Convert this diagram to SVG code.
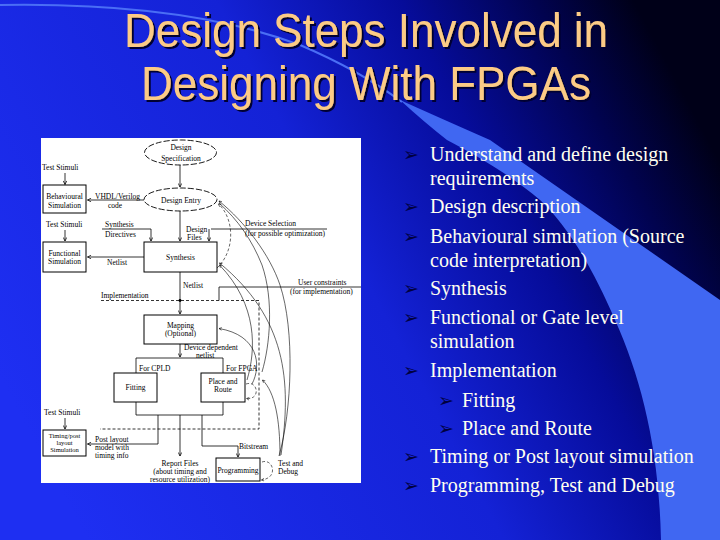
<svg xmlns="http://www.w3.org/2000/svg" width="720" height="540" viewBox="0 0 720 540">
<defs>
<linearGradient id="bg" x1="0" y1="0.7" x2="1" y2="0.3">
<stop offset="0" stop-color="#1e2ff2"/>
<stop offset="0.5" stop-color="#1422d6"/>
<stop offset="0.72" stop-color="#060c9a"/>
<stop offset="0.88" stop-color="#010350"/>
<stop offset="1" stop-color="#000018"/>
</linearGradient>
<filter id="sh" x="-5%" y="-20%" width="110%" height="140%">
<feOffset in="SourceAlpha" dx="2" dy="2" result="o"/>
<feFlood flood-color="#000033"/>
<feComposite in2="o" operator="in" result="s"/>
<feMerge><feMergeNode in="s"/><feMergeNode in="SourceGraphic"/></feMerge>
</filter>
<marker id="ah" viewBox="0 0 8 8" refX="7" refY="4" markerWidth="6" markerHeight="6" orient="auto-start-reverse">
<path d="M1,1 L7,4 L1,7" fill="none" stroke="#000" stroke-width="1.2"/>
</marker>
<style>
.title{font-family:"Liberation Sans",Arial,sans-serif;font-size:44px;fill:#fccb86}
.bt{font-family:"Liberation Serif","Times New Roman",serif;font-size:20px;fill:#fffff0}
.bm{font-family:"DejaVu Sans",sans-serif;font-size:19px;fill:#000040}
.l{font-family:"Liberation Serif","Times New Roman",serif;font-size:7.5px;fill:#000}
.s{font-size:6.5px}
.c{text-anchor:middle}
.box{fill:#fff;stroke:#000;stroke-width:1}
.ell{fill:#fff;stroke:#000;stroke-width:0.9;stroke-dasharray:6 2}
.ln{fill:none;stroke:#000;stroke-width:0.8}
.ds{stroke-dasharray:3 2}
.cv{fill:none;stroke:#000;stroke-width:0.6}
</style>
</defs>

<g id="background">
<rect x="0" y="0" width="720" height="540" fill="url(#bg)"/>
<path d="M400,100 Q440,118 490,140 L720,300 L720,540 L661,540 C659,450 642,380 615,320 C592,266 566,224 540,200 C512,176 474,154 447,140 Q424,122 400,100 Z" fill="#4067f2"/>
<path d="M0,5 C120,3 220,15 300,45 C340,62 375,82 402,102" fill="none" stroke="#4a6ef5" stroke-width="2"/>
</g>

<g id="title" filter="url(#sh)">
<text class="title c" transform="translate(366,47) scale(1,1.08)">Design Steps Involved in</text>
<text class="title c" transform="translate(366,100) scale(1,1.08)">Designing With FPGAs</text>
</g>

<g id="bullets">
<text class="bm" x="403" y="161">➢</text><text class="bt" x="430" y="161">Understand and define design</text>
<text class="bt" x="430" y="184.5">requirements</text>
<text class="bm" x="403" y="213">➢</text><text class="bt" x="430" y="213">Design description</text>
<text class="bm" x="403" y="243">➢</text><text class="bt" x="430" y="243">Behavioural simulation (Source</text>
<text class="bt" x="430" y="266.5">code interpretation)</text>
<text class="bm" x="403" y="295">➢</text><text class="bt" x="430" y="295">Synthesis</text>
<text class="bm" x="403" y="324">➢</text><text class="bt" x="430" y="324">Functional or Gate level</text>
<text class="bt" x="430" y="347.5">simulation</text>
<text class="bm" x="403" y="377">➢</text><text class="bt" x="430" y="377">Implementation</text>
<text class="bm" x="438" y="407">➢</text><text class="bt" x="462" y="407">Fitting</text>
<text class="bm" x="438" y="435">➢</text><text class="bt" x="462" y="435">Place and Route</text>
<text class="bm" x="403" y="463">➢</text><text class="bt" x="430" y="463">Timing or Post layout simulation</text>
<text class="bm" x="403" y="492">➢</text><text class="bt" x="430" y="492">Programming, Test and Debug</text>
</g>

<g id="panel">
<rect x="41" y="138" width="320" height="345" fill="#fff"/>
</g>

<g id="connectors">
<line class="ln" x1="180" y1="165" x2="180" y2="187" marker-end="url(#ah)"/>
<line class="ln" x1="180" y1="211" x2="180" y2="241" marker-end="url(#ah)"/>
<line class="ln" x1="65" y1="173" x2="65" y2="184.5" marker-end="url(#ah)"/>
<line class="ln" x1="65" y1="230" x2="65" y2="241" marker-end="url(#ah)"/>
<line class="ln" x1="65" y1="418" x2="65" y2="429" marker-end="url(#ah)"/>
<line class="ln" x1="144" y1="200" x2="87.5" y2="200" marker-end="url(#ah)"/>
<polyline class="ln" points="102,229 151,229 151,241" marker-end="url(#ah)"/>
<line class="ln" x1="211" y1="229" x2="327" y2="229"/>
<line class="ln" x1="209" y1="229" x2="209" y2="241" marker-end="url(#ah)"/>
<line class="ln" x1="144" y1="257" x2="87.5" y2="257" marker-end="url(#ah)"/>
<line class="ln" x1="180" y1="272" x2="180" y2="314" marker-end="url(#ah)"/>
<line class="ln" x1="219" y1="287" x2="361" y2="287"/>
<line class="ln" x1="219" y1="287" x2="219" y2="300.5"/>
<polyline class="ln ds" points="101,300.5 259,300.5 259,429 100,429"/>
<circle cx="180" cy="300.5" r="1.4" fill="#000"/>
<line class="ln" x1="180" y1="344" x2="180" y2="357" marker-end="url(#ah)"/>
<line class="ln" x1="136" y1="358" x2="223" y2="358"/>
<line class="ln" x1="136" y1="358" x2="136" y2="373"/>
<line class="ln" x1="223" y1="358" x2="223" y2="373"/>
<polyline class="ln" points="136,402 136,415 223,415 223,402"/>
<polyline class="ln" points="158,415 158,444 87.5,444" marker-end="url(#ah)"/>
<line class="ln" x1="180" y1="415" x2="180" y2="456" marker-end="url(#ah)"/>
<polyline class="ln" points="202,415 202,446 238,446 238,457" marker-end="url(#ah)"/>
<path class="cv ds" d="M217,268 C236,250 234,218 218.5,204" marker-end="url(#ah)"/>
<path class="cv" d="M279,456 C292,410 295,330 280,285 C270,255 245,222 219,201" marker-end="url(#ah)"/>
<path class="cv" d="M262,372 C270,345 274,300 262,265 C252,240 238,220 219,203"/>
<path class="cv" d="M280,456 C280,420 275,392 262.5,380" marker-end="url(#ah)"/>
<path class="cv" d="M247,380 C256,350 258,305 219.5,265" marker-end="url(#ah)"/>
<path class="cv" d="M281,455 C292,380 286,318 219.5,263" marker-end="url(#ah)"/>
<path class="cv" d="M252,384 C262,365 258,335 219,328.5" marker-end="url(#ah)"/>
<path class="cv ds" d="M246,384 C258,380 261,400 246.5,398.5" marker-end="url(#ah)"/>
<path class="cv ds" d="M262,462 C273,458 279,478 261.5,480" marker-end="url(#ah)"/>
</g>

<g id="labels">
<text class="l" x="42" y="170">Test Stimuli</text>
<text class="l" x="46" y="227">Test Stimuli</text>
<text class="l" x="44" y="415">Test Stimuli</text>
<text class="l" x="95" y="198.5">VHDL/Verilog</text>
<text class="l" x="108" y="208">code</text>
<text class="l" x="105" y="227">Synthesis</text>
<text class="l" x="105" y="237">Directives</text>
<text class="l" x="186" y="232">Design</text>
<text class="l" x="187" y="240">Files</text>
<text class="l" x="245" y="225.5">Device Selection</text>
<text class="l" x="245" y="235.5">(for possible optimization)</text>
<text class="l" x="107" y="265">Netlist</text>
<text class="l" x="183" y="288">Netlist</text>
<text class="l" x="101" y="298">Implementation</text>
<text class="l" x="298" y="284.5">User constraints</text>
<text class="l" x="290" y="293.5">(for implementation)</text>
<text class="l" x="184" y="349.5">Device dependent</text>
<text class="l" x="196" y="357.5">netlist</text>
<text class="l" x="139" y="371">For CPLD</text>
<text class="l" x="226" y="371">For FPGA</text>
<text class="l" x="95" y="441.5">Post layout</text>
<text class="l" x="95" y="449.5">model with</text>
<text class="l" x="95" y="457.5">timing info</text>
<text class="l c" x="180" y="466">Report Files</text>
<text class="l c" x="180" y="474">(about timing and</text>
<text class="l c" x="180" y="481.5">resource utilization)</text>
<text class="l" x="239" y="448.5">Bitstream</text>
<text class="l" x="278" y="466">Test and</text>
<text class="l" x="278" y="474">Debug</text>
</g>

<g id="node-spec">
<ellipse class="ell" cx="180.5" cy="152.5" rx="36" ry="12.5"/>
<text class="l c" x="181" y="149.5">Design</text>
<text class="l c" x="181" y="160.5">Specification</text>
</g>
<g id="node-entry">
<ellipse class="ell" cx="180.5" cy="199.5" rx="36.5" ry="11.5"/>
<text class="l c" x="181" y="202.5">Design Entry</text>
</g>
<g id="node-behav">
<rect class="box" x="43" y="185" width="43" height="28"/>
<text class="l c" x="64.5" y="199">Behavioural</text>
<text class="l c" x="64.5" y="207.5">Simulation</text>
</g>
<g id="node-func">
<rect class="box" x="43" y="242" width="43" height="30"/>
<text class="l c" x="64.5" y="256">Functional</text>
<text class="l c" x="64.5" y="264">Simulation</text>
</g>
<g id="node-synth">
<rect class="box" x="144" y="242" width="73" height="30"/>
<text class="l c" x="180.5" y="260">Synthesis</text>
</g>
<g id="node-mapping">
<rect class="box" x="144" y="315" width="73" height="29"/>
<text class="l c" x="180.5" y="328">Mapping</text>
<text class="l c" x="180.5" y="336">(Optional)</text>
</g>
<g id="node-fitting">
<rect class="box" x="114" y="373" width="43" height="29"/>
<text class="l c" x="135.5" y="390">Fitting</text>
</g>
<g id="node-pr">
<rect class="box" x="201" y="373" width="44" height="29"/>
<text class="l c" x="223" y="384">Place and</text>
<text class="l c" x="223" y="392">Route</text>
</g>
<g id="node-timing">
<rect class="box" x="43" y="430" width="43" height="26"/>
<text class="l s c" x="64.5" y="437.5">Timing/post</text>
<text class="l s c" x="64.5" y="444.7">layout</text>
<text class="l s c" x="64.5" y="452">Simulation</text>
</g>
<g id="node-prog">
<rect class="box" x="216" y="458" width="44" height="23"/>
<text class="l c" x="238" y="472.5">Programming</text>
</g>
</svg>
